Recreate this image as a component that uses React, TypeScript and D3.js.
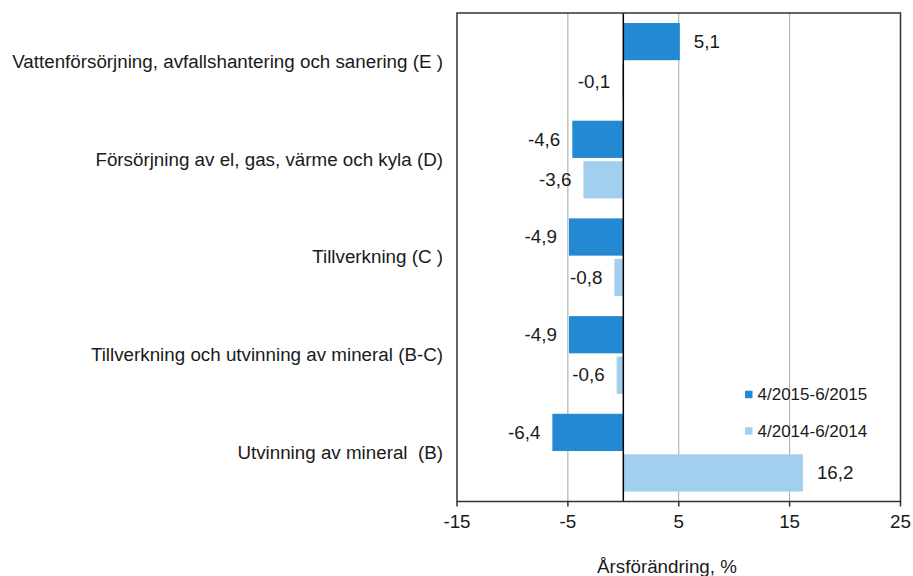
import React from "react";
import * as d3 from "d3";

const categories = [
  "Vattenförsörjning, avfallshantering och sanering (E )",
  "Försörjning av el, gas, värme och kyla (D)",
  "Tillverkning (C )",
  "Tillverkning och utvinning av mineral (B-C)",
  "Utvinning av mineral  (B)",
];
const seriesNames = ["4/2015-6/2015", "4/2014-6/2014"];
const values2015 = [5.1, -4.6, -4.9, -4.9, -6.4];
const values2014 = [-0.1, -3.6, -0.8, -0.6, 16.2];
const xTicks = [-15, -5, 5, 15, 25];
const gridValues = [-5, 5, 15];
const colors = ["#2389d3", "#a2cfee"];
const axisTitle = "Årsförändring, %";

const W = 913;
const H = 576;
const left = 457;
const right = 900.5;
const top = 13;
const bottom = 501.5;
const FONT = "'Liberation Sans', Arial, sans-serif";
const FS = 18.8;
const LEGEND_FS = 17;

const fmt = (v: number) => v.toFixed(1).replace(".", ",");

export default function App() {
  const x = d3.scaleLinear().domain([-15, 25]).range([left, right]);
  const y = d3.scaleBand<string>().domain(categories).range([top, bottom]).padding(0);
  const sub = d3
    .scaleBand<string>()
    .domain(seriesNames)
    .range([10, y.bandwidth() - 10])
    .paddingInner(0.08)
    .paddingOuter(0);
  const series = [values2015, values2014];

  return (
    <svg
      width={W}
      height={H}
      style={{ position: "absolute", left: 0, top: 0, background: "#fff" }}
      fontFamily={FONT}
    >
      <rect x={0} y={0} width={W} height={H} fill="#fff" />
      {gridValues.map((g) => (
        <line key={g} x1={x(g)} x2={x(g)} y1={top} y2={bottom} stroke="#a6a6a6" strokeWidth={1} />
      ))}
      {series.map((vals, si) =>
        vals.map((v, ci) => {
          const yy = (y(categories[ci]) as number) + (sub(seriesNames[si]) as number);
          const x0 = x(Math.min(0, v));
          const x1 = x(Math.max(0, v));
          return (
            <rect
              key={`${si}-${ci}`}
              x={x0}
              y={yy}
              width={Math.max(x1 - x0, 1)}
              height={sub.bandwidth()}
              fill={colors[si]}
            />
          );
        })
      )}
      {series.map((vals, si) =>
        vals.map((v, ci) => {
          const yy = (y(categories[ci]) as number) + (sub(seriesNames[si]) as number) + sub.bandwidth() / 2;
          const pos = v >= 0;
          return (
            <text
              key={`l${si}-${ci}`}
              x={pos ? x(v) + 14 : x(v) - 12}
              y={yy}
              dy="0.33em"
              textAnchor={pos ? "start" : "end"}
              fontSize={FS}
              fill="#1a1a1a"
            >
              {fmt(v)}
            </text>
          );
        })
      )}
      <line x1={x(0)} x2={x(0)} y1={top} y2={bottom} stroke="#000" strokeWidth={1.5} />
      <rect x={left} y={top} width={right - left} height={bottom - top} fill="none" stroke="#333" strokeWidth={1.5} />
      {xTicks.map((t) => (
        <g key={t}>
          <line x1={x(t)} x2={x(t)} y1={bottom} y2={bottom + 5} stroke="#333" strokeWidth={1.5} />
          <text x={x(t)} y={528} textAnchor="middle" fontSize={FS} fill="#1a1a1a">
            {t}
          </text>
        </g>
      ))}
      {categories.map((c) => (
        <text
          key={c}
          x={443}
          y={(y(c) as number) + y.bandwidth() / 2}
          dy="0.33em"
          textAnchor="end"
          fontSize={FS}
          fill="#1a1a1a"
          style={{ whiteSpace: "pre" }}
        >
          {c}
        </text>
      ))}
      {seriesNames.map((s, i) => (
        <g key={s} transform={`translate(745, ${394.5 + i * 36.5})`}>
          <rect x={0} y={-3.8} width={7.5} height={7.5} fill={colors[i]} />
          <text x={12.5} y={0} dy="0.35em" fontSize={LEGEND_FS} fill="#1a1a1a">
            {s}
          </text>
        </g>
      ))}
      <text x={667} y={573} textAnchor="middle" fontSize={FS} fill="#1a1a1a">
        {axisTitle}
      </text>
    </svg>
  );
}
